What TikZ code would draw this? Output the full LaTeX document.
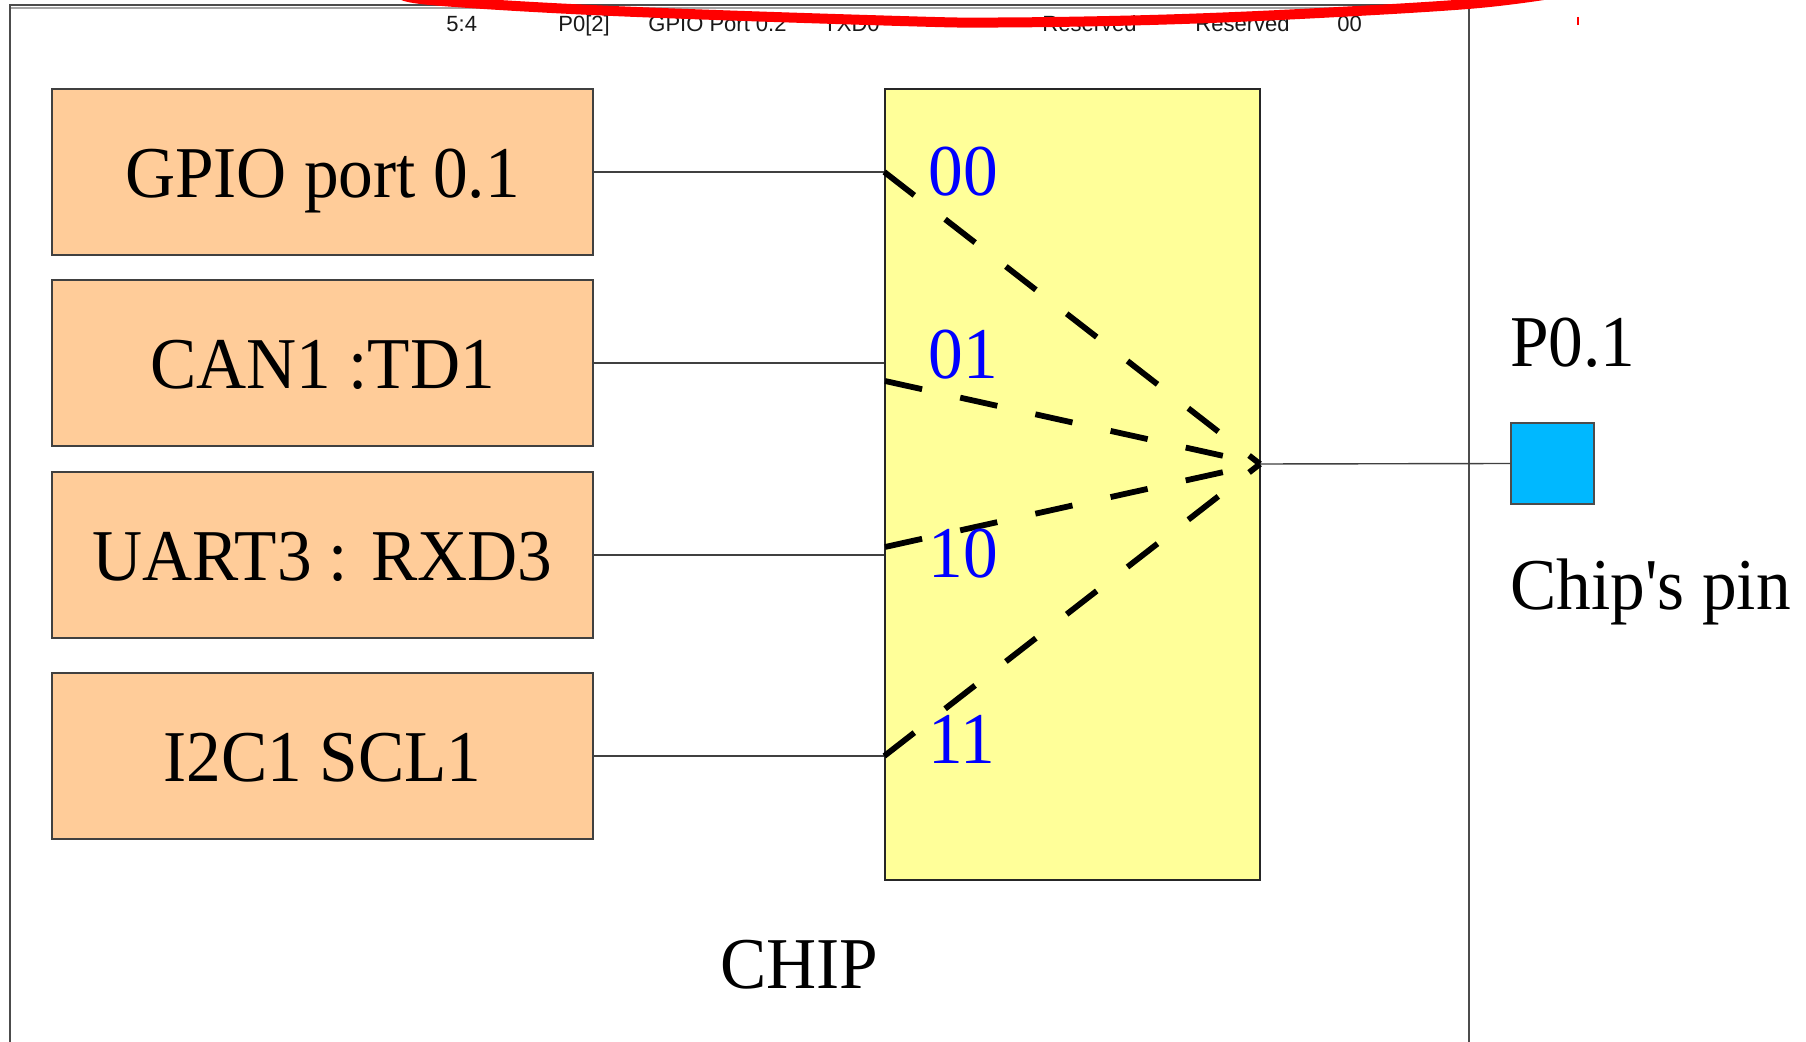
\documentclass[tikz,border=0pt]{standalone}
\usepackage{fontspec}
\setmainfont{Liberation Serif}[FakeStretch=0.95, Ligatures=TeXOff]
\newfontfamily\arialfont{Liberation Sans}
\definecolor{peach}{RGB}{255,204,153}
\definecolor{muxyellow}{RGB}{255,255,153}
\definecolor{pinblue}{RGB}{0,184,255}
\definecolor{wiregray}{RGB}{64,64,64}
\definecolor{labelblue}{RGB}{0,0,255}
\begin{document}
\begin{tikzpicture}[x=0.5pt,y=-0.5pt,
  bigfont/.style={font=\fontsize{36.5}{40}\selectfont},
  portbox/.style={draw=black!75, line width=0.7pt, fill=peach,
    minimum width=270.5pt, minimum height=83pt, inner sep=0pt,
    text height=26pt, text depth=0pt, bigfont},
  muxbox/.style={draw=black!85, line width=0.7pt, fill=muxyellow,
    minimum width=187.5pt, minimum height=395.5pt, inner sep=0pt},
  pinbox/.style={draw=black!70, line width=0.6pt, fill=pinblue,
    minimum width=41.5pt, minimum height=40.5pt, inner sep=0pt},
  wire/.style={draw=wiregray, line width=0.7pt},
  selline/.style={draw=black, line width=2.9pt, dash pattern=on 19pt off 19.5pt},
  codelbl/.style={inner sep=0pt, anchor=base west, text=labelblue, bigfont},
  plaintxt/.style={inner sep=0pt, bigfont},
  toptxt/.style={inner sep=0pt, anchor=base west, text=black!90,
    font=\arialfont\fontsize{11}{13}\selectfont},
  chipline/.style={draw=black!70, line width=0.9pt}
]
\useasboundingbox (0,0) rectangle (1806,1042);
\clip (0,0) rectangle (1806,1042);
\fill[white] (0,0) rectangle (1806,1042);

% chip outline
\draw[chipline] (10,1100) |- (1469,5) -- (1469,1100);
\draw[black!35, line width=0.6pt] (11,8) -- (1413,8);

% top strip texts
\node[toptxt] (t1) at (446,32) {5:4};
\node[toptxt] (t2) at (558,32) {P0[2]};
\node[toptxt] (t3) at (648,32) {GPIO Port 0.2};
\node[toptxt] (t4) at (823,32) {TXD0};
\node[toptxt] (t5) at (1042,32) {Reserved};
\node[toptxt] (t6) at (1195,32) {Reserved};
\node[toptxt] (t7) at (1337,32) {00};

% red annotation stroke
\draw[red, line width=5pt] plot[smooth, tension=0.6] coordinates
  {(400,-8) (430,0) (613,11) (900,21) (1000,22.5) (1150,20) (1300,14) (1468,4) (1550,-6)};
\draw[red, line width=0.8pt] (1578,17) -- (1578,25);

% peripheral boxes
\node[portbox] (gpio) at (322.5,172) {GPIO port 0.1};
\node[portbox] (can)  at (322.5,363) {CAN1 :TD1};
\node[portbox] (uart) at (322.5,555) {UART3 : RXD3};
\node[portbox] (i2c)  at (322.5,756) {I2C1 SCL1};

% multiplexer
\node[muxbox] (mux) at (1072.5,484.5) {};
\coordinate (out) at (1260,464);
\coordinate (in2) at (885,381);
\coordinate (in3) at (885,547);

% wires into mux
\draw[wire] (gpio.east) -- (gpio.east -| mux.west);
\draw[wire] (can.east) -- (can.east -| mux.west);
\draw[wire] (uart.east) -- (uart.east -| mux.west);
\draw[wire] (i2c.east) -- (i2c.east -| mux.west);

% selection lines
\draw[selline] (gpio.east -| mux.west) -- (out);
\draw[selline] (in2) -- (out);
\draw[selline] (in3) -- (out);
\draw[selline] (i2c.east -| mux.west) -- (out);

% codes
\node[codelbl] (c00) at (928,196) {00};
\node[codelbl] (c01) at (928,379) {01};
\node[codelbl] (c10) at (928,578) {10};
\node[codelbl] (c11) at (928,764) {11};

% chip pin
\node[pinbox] (pin) at (1552.5,463.5) {};
\draw[wire] (out) -- (pin.west);
\node[plaintxt, anchor=base west] (p01) at (1510,367) {P0.1};
\node[plaintxt, anchor=base west] (cpin) at (1510,610) {Chip's pin};

% chip label
\node[plaintxt, anchor=base] (chiplbl) at (799,988) {CHIP};
\end{tikzpicture}
\end{document}
